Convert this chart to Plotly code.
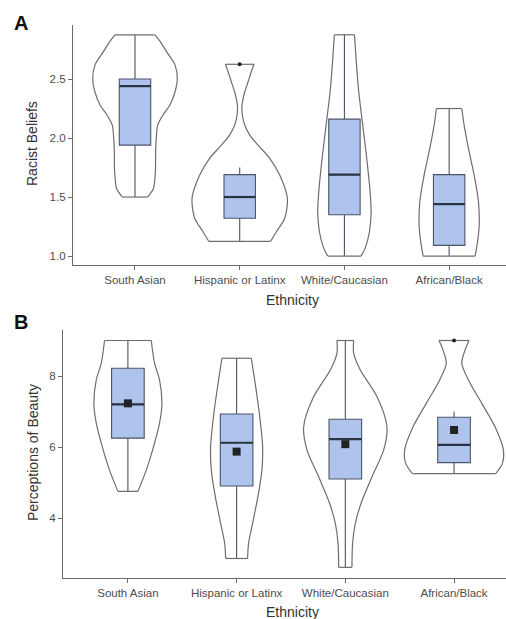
import plotly.graph_objects as go

W, H = 506, 619

categories = ["South Asian", "Hispanic or Latinx", "White/Caucasian", "African/Black"]
positions = [0, 1, 2, 3]

# ---- Panel A: Racist Beliefs ----
# violin outlines: value levels and half-widths (category units)
A_SA_y = [1.5, 1.57, 1.72, 1.88, 2.02, 2.11, 2.2, 2.28, 2.39, 2.5, 2.62, 2.73, 2.82, 2.875]
A_SA_w = [0.12, 0.175, 0.195, 0.197, 0.205, 0.217, 0.27, 0.334, 0.382, 0.404, 0.382, 0.303, 0.24, 0.19]
A_HL_y = [1.125, 1.206, 1.32, 1.49, 1.686, 1.828, 1.94, 2.025, 2.11, 2.195, 2.28, 2.39, 2.477, 2.56, 2.625]
A_HL_w = [0.296, 0.35, 0.43, 0.455, 0.382, 0.287, 0.175, 0.096, 0.048, 0.025, 0.022, 0.048, 0.08, 0.11, 0.137]
A_WC_y = [1.0, 1.065, 1.206, 1.375, 1.545, 1.828, 2.11, 2.39, 2.675, 2.875]
A_WC_w = [0.159, 0.197, 0.239, 0.255, 0.245, 0.213, 0.175, 0.137, 0.111, 0.096]
A_AB_y = [1.0, 1.12, 1.263, 1.46, 1.686, 1.884, 2.11, 2.25]
A_AB_w = [0.248, 0.271, 0.287, 0.28, 0.239, 0.191, 0.143, 0.121]

A_lower = [1.5, 1.125, 1.0, 1.0]
A_q1 = [1.94, 1.32, 1.35, 1.09]
A_median = [2.44, 1.5, 1.69, 1.44]
A_q3 = [2.5, 1.69, 2.16, 1.69]
A_upper = [2.875, 1.75, 2.875, 2.25]
A_outlier_x = [1]
A_outlier_y = [2.625]

# ---- Panel B: Perceptions of Beauty ----
B_SA_y = [4.75, 5.35, 6.01, 6.67, 7.23, 7.89, 8.36, 9.0]
B_SA_w = [0.092, 0.169, 0.236, 0.291, 0.313, 0.291, 0.245, 0.215]
B_HL_y = [2.86, 3.29, 3.85, 4.6, 5.35, 6.01, 6.95, 7.89, 8.5]
B_HL_w = [0.101, 0.11, 0.147, 0.196, 0.233, 0.239, 0.209, 0.166, 0.135]
B_WC_y = [2.61, 3.29, 3.85, 4.41, 5.16, 5.92, 6.57, 7.42, 8.17, 8.64, 9.0]
B_WC_w = [0.061, 0.067, 0.092, 0.144, 0.245, 0.353, 0.383, 0.291, 0.138, 0.077, 0.077]
B_AB_y = [5.25, 5.54, 5.92, 6.57, 7.23, 7.89, 8.36, 8.73, 9.0]
B_AB_w = [0.383, 0.445, 0.454, 0.377, 0.255, 0.132, 0.071, 0.101, 0.138]

B_lower = [4.75, 2.86, 2.61, 5.25]
B_q1 = [6.25, 4.9, 5.1, 5.56]
B_median = [7.2, 6.12, 6.22, 6.06]
B_q3 = [8.22, 6.93, 6.78, 6.84]
B_upper = [9.0, 8.5, 9.0, 7.0]
B_mean = [7.23, 5.87, 6.08, 6.48]
B_outlier_x = [3]
B_outlier_y = [9.0]

VIOLIN_LINE = "#6e6e6e"
BOX_FILL = "#aec4ec"
BOX_LINE = "#4a5568"
MEDIAN_LINE = "#2b3442"
AXIS = "#6b6b6b"
BOX_W = 0.3

fig = go.Figure()


def add_violin(pos, ys, ws, xa, ya):
    # sides drawn as smooth curves, flat ends as straight segments
    xs = [pos - w for w in ws] + [None] + [pos + w for w in ws] + [None] \
        + [pos - ws[-1], pos + ws[-1]] + [None] + [pos - ws[0], pos + ws[0]]
    yy = list(ys) + [None] + list(ys) + [None] + [ys[-1], ys[-1]] + [None] + [ys[0], ys[0]]
    fig.add_trace(go.Scatter(x=xs, y=yy, mode="lines", connectgaps=False,
                             line=dict(color=VIOLIN_LINE, width=1.2, shape="spline", smoothing=0.8),
                             xaxis=xa, yaxis=ya, showlegend=False, hoverinfo="skip"))


def add_boxes(lower, q1, med, q3, upper, xa, ya):
    fig.add_trace(go.Box(x=positions, lowerfence=lower, q1=q1, median=med, q3=q3,
                         upperfence=upper, width=BOX_W, whiskerwidth=0, orientation="v",
                         fillcolor=BOX_FILL, line=dict(color=BOX_LINE, width=1.1),
                         boxpoints=False, xaxis=xa, yaxis=ya, showlegend=False))
    for p, m in zip(positions, med):
        fig.add_trace(go.Scatter(x=[p - BOX_W / 2, p + BOX_W / 2], y=[m, m], mode="lines",
                                 line=dict(color=MEDIAN_LINE, width=2.2),
                                 xaxis=xa, yaxis=ya, showlegend=False, hoverinfo="skip"))


# Panel A
for pos, ys, ws in zip(positions, [A_SA_y, A_HL_y, A_WC_y, A_AB_y], [A_SA_w, A_HL_w, A_WC_w, A_AB_w]):
    add_violin(pos, ys, ws, "x", "y")
add_boxes(A_lower, A_q1, A_median, A_q3, A_upper, "x", "y")
fig.add_trace(go.Scatter(x=A_outlier_x, y=A_outlier_y, mode="markers",
                         marker=dict(color="#222222", size=4),
                         xaxis="x", yaxis="y", showlegend=False))

# Panel B
for pos, ys, ws in zip(positions, [B_SA_y, B_HL_y, B_WC_y, B_AB_y], [B_SA_w, B_HL_w, B_WC_w, B_AB_w]):
    add_violin(pos, ys, ws, "x2", "y2")
add_boxes(B_lower, B_q1, B_median, B_q3, B_upper, "x2", "y2")
fig.add_trace(go.Scatter(x=B_outlier_x, y=B_outlier_y, mode="markers",
                         marker=dict(color="#222222", size=4),
                         xaxis="x2", yaxis="y2", showlegend=False))
fig.add_trace(go.Scatter(x=positions, y=B_mean, mode="markers",
                         marker=dict(color="#222222", size=8, symbol="square"),
                         xaxis="x2", yaxis="y2", showlegend=False))

tickfont = dict(family="Liberation Sans, Arial, sans-serif", size=11.5, color="#4d4d4d")
common_x = dict(showgrid=False, zeroline=False, showline=True, linecolor=AXIS, linewidth=1.2,
                ticks="outside", ticklen=4, tickcolor=AXIS, tickfont=tickfont,
                tickvals=positions, ticktext=categories)
common_y = dict(showgrid=False, zeroline=False, showline=True, linecolor=AXIS, linewidth=1.2,
                ticks="outside", ticklen=4, tickcolor=AXIS, tickfont=tickfont)


def px_x(p):
    return p / W


def px_y(p):
    return 1 - p / H


fig.update_layout(
    width=W, height=H,
    margin=dict(l=0, r=0, t=0, b=0),
    paper_bgcolor="white", plot_bgcolor="white",
    showlegend=False,
    xaxis=dict(common_x, domain=[px_x(73), 1], range=[-0.592, 3.543], anchor="y"),
    yaxis=dict(common_y, domain=[px_y(265), px_y(25)], range=[0.924, 2.958], anchor="x",
               tickvals=[1.0, 1.5, 2.0, 2.5], ticktext=["1.0", "1.5", "2.0", "2.5"]),
    xaxis2=dict(common_x, domain=[px_x(63), 1], range=[-0.597, 3.478], anchor="y2"),
    yaxis2=dict(common_y, domain=[px_y(578), px_y(330)], range=[2.31, 9.296], anchor="x2",
                tickvals=[4, 6, 8], ticktext=["4", "6", "8"]),
)

title_font = dict(family="Liberation Sans, Arial, sans-serif", size=14, color="#333333")
label_font = dict(family="Liberation Sans, Arial, sans-serif", size=20, color="#111111")
annotations = [
    dict(text="Racist Beliefs", x=px_x(32), y=px_y(143), textangle=-90, font=title_font),
    dict(text="Ethnicity", x=px_x(292), y=px_y(300), font=title_font),
    dict(text="Perceptions of Beauty", x=px_x(33), y=px_y(453), textangle=-90, font=title_font),
    dict(text="Ethnicity", x=px_x(292), y=px_y(612), font=title_font),
    dict(text="<b>A</b>", x=px_x(21), y=px_y(23), font=label_font),
    dict(text="<b>B</b>", x=px_x(21), y=px_y(322), font=label_font),
]
for a in annotations:
    fig.add_annotation(xref="paper", yref="paper", showarrow=False,
                       xanchor="center", yanchor="middle", **a)

fig.write_html("out.html")
